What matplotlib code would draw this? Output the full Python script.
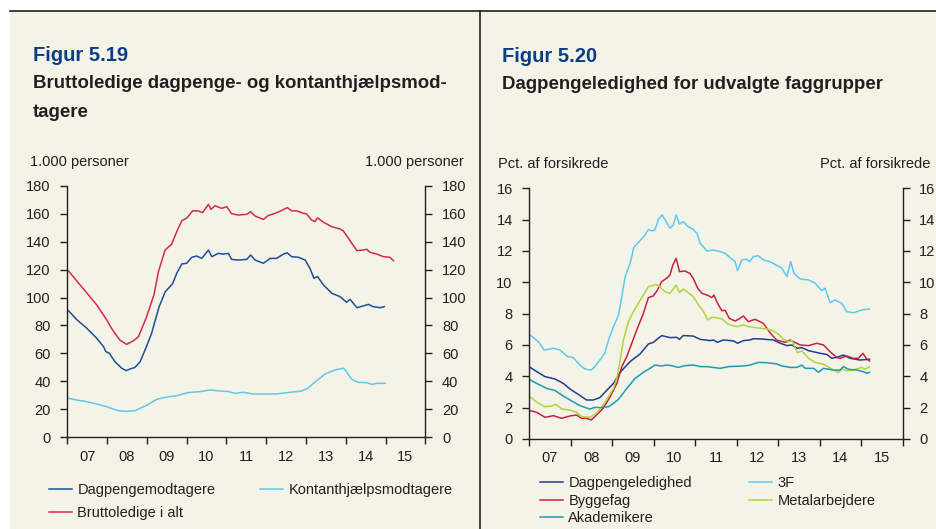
import matplotlib.pyplot as plt
from matplotlib.patches import Rectangle
from matplotlib.lines import Line2D

plt.rcParams['font.family'] = ['Liberation Sans', 'DejaVu Sans']

# Figur 5.19 - bruttoledige, 1.000 personer (tid i decimalår)
t_brutto = [2007.03, 2007.74, 2007.99, 2008.11, 2008.32, 2008.49, 2008.66, 2008.79, 2008.99,
            2009.18, 2009.29, 2009.46, 2009.62, 2009.75, 2009.88, 2010.00, 2010.15, 2010.29,
            2010.40, 2010.55, 2010.61, 2010.71, 2010.88, 2011.01, 2011.13, 2011.30, 2011.51,
            2011.61, 2011.72, 2011.93, 2012.05, 2012.22, 2012.37, 2012.53, 2012.64, 2012.77,
            2012.89, 2013.02, 2013.14, 2013.23, 2013.29, 2013.44, 2013.65, 2013.86, 2013.94,
            2014.07, 2014.28, 2014.44, 2014.53, 2014.61, 2014.78, 2014.95, 2015.11, 2015.20]
v_brutto = [119.0, 94.7, 84.0, 78.0, 69.6, 66.5, 69.0, 72.0, 86.0,
            102.0, 118.5, 134.0, 138.0, 147.0, 155.0, 156.7, 162.0, 162.0,
            160.7, 166.7, 163.0, 165.7, 163.8, 165.0, 160.0, 159.0, 159.5,
            161.4, 158.3, 155.9, 158.6, 160.2, 162.0, 164.3, 162.0, 162.0,
            160.7, 159.7, 155.5, 154.3, 157.0, 153.8, 150.7, 149.0, 147.6,
            142.3, 133.5, 134.0, 134.5, 132.3, 131.1, 129.2, 128.8, 126.4]

t_dagp = [2007.03, 2007.23, 2007.49, 2007.74, 2007.91, 2007.97, 2008.06, 2008.20, 2008.37,
          2008.48, 2008.58, 2008.70, 2008.83, 2008.99, 2009.12, 2009.20, 2009.31, 2009.46,
          2009.58, 2009.65, 2009.75, 2009.88, 2010.00, 2010.13, 2010.25, 2010.38, 2010.55,
          2010.63, 2010.80, 2010.92, 2011.05, 2011.13, 2011.30, 2011.51, 2011.61, 2011.72,
          2011.93, 2012.10, 2012.26, 2012.43, 2012.53, 2012.64, 2012.81, 2012.98, 2013.10,
          2013.20, 2013.29, 2013.44, 2013.65, 2013.86, 2014.02, 2014.11, 2014.28, 2014.44,
          2014.57, 2014.69, 2014.86, 2014.97]
v_dagp = [90.6, 84.4, 78.0, 70.8, 64.9, 61.3, 60.0, 54.0, 49.4,
          47.7, 48.9, 50.0, 54.0, 64.9, 74.4, 82.7, 93.5, 104.0,
          107.8, 110.0, 117.3, 124.0, 124.5, 128.8, 129.7, 128.0, 134.0,
          129.2, 131.6, 131.0, 131.6, 127.3, 126.8, 127.3, 130.4, 126.8,
          124.5, 128.0, 128.0, 131.0, 132.0, 129.2, 128.8, 126.8, 120.9,
          113.7, 115.0, 109.0, 103.0, 100.6, 96.6, 98.7, 92.7, 94.0,
          95.1, 93.5, 92.7, 93.5]

t_kont = [2007.03, 2007.23, 2007.49, 2007.74, 2007.99, 2008.28, 2008.49, 2008.70, 2008.87,
          2009.04, 2009.25, 2009.46, 2009.75, 2010.04, 2010.34, 2010.59, 2010.84, 2011.05,
          2011.22, 2011.43, 2011.68, 2012.26, 2012.60, 2012.89, 2013.04, 2013.19, 2013.48,
          2013.73, 2013.94, 2014.02, 2014.15, 2014.32, 2014.53, 2014.65, 2014.78, 2014.99]
v_kont = [27.9, 26.7, 25.5, 23.8, 21.9, 19.0, 18.6, 19.0, 21.2,
          23.6, 27.2, 28.6, 29.8, 32.0, 32.7, 33.9, 33.1, 32.7,
          31.5, 32.2, 31.0, 31.0, 32.2, 33.1, 35.0, 38.6, 45.3,
          48.2, 49.4, 47.0, 41.5, 39.3, 39.1, 37.9, 38.6, 38.6]

# Figur 5.20 - dagpengeledighed, pct. af forsikrede
t_3f = [2007.02, 2007.22, 2007.36, 2007.58, 2007.74, 2007.92, 2008.06, 2008.22, 2008.34,
        2008.49, 2008.58, 2008.70, 2008.82, 2008.91, 2009.03, 2009.15, 2009.23, 2009.31,
        2009.43, 2009.52, 2009.67, 2009.79, 2009.87, 2009.95, 2010.03, 2010.11, 2010.20,
        2010.30, 2010.39, 2010.47, 2010.54, 2010.62, 2010.71, 2010.83, 2010.95, 2011.04,
        2011.12, 2011.28, 2011.44, 2011.60, 2011.72, 2011.84, 2011.96, 2012.02, 2012.12,
        2012.24, 2012.31, 2012.40, 2012.52, 2012.64, 2012.80, 2012.92, 2013.09, 2013.21,
        2013.30, 2013.38, 2013.53, 2013.73, 2013.89, 2014.05, 2014.13, 2014.25, 2014.37,
        2014.53, 2014.65, 2014.81, 2015.01, 2015.20]
v_3f = [6.64, 6.20, 5.68, 5.79, 5.68, 5.26, 5.19, 4.72, 4.47,
        4.40, 4.62, 5.04, 5.47, 6.32, 7.17, 7.91, 9.09, 10.36,
        11.21, 12.23, 12.66, 13.02, 13.38, 13.28, 13.34, 14.02, 14.30,
        13.87, 13.45, 13.66, 14.30, 13.72, 13.87, 13.55, 13.38, 13.13,
        12.49, 12.00, 12.06, 11.96, 11.85, 11.57, 11.32, 10.74, 11.43,
        11.47, 11.32, 11.64, 11.70, 11.43, 11.32, 11.15, 10.89, 10.36,
        11.32, 10.57, 10.21, 10.15, 9.94, 9.47, 9.62, 8.70, 8.87,
        8.66, 8.13, 8.06, 8.23, 8.30]

t_ledig = [2007.02, 2007.18, 2007.38, 2007.62, 2007.82, 2007.98, 2008.18, 2008.38, 2008.54,
           2008.70, 2008.86, 2009.03, 2009.19, 2009.43, 2009.67, 2009.87, 2009.99, 2010.19,
           2010.39, 2010.55, 2010.62, 2010.71, 2010.95, 2011.12, 2011.36, 2011.44, 2011.53,
           2011.68, 2011.92, 2012.02, 2012.16, 2012.32, 2012.40, 2012.60, 2012.88, 2013.05,
           2013.21, 2013.33, 2013.45, 2013.57, 2013.73, 2014.01, 2014.17, 2014.29, 2014.41,
           2014.57, 2014.73, 2014.97, 2015.20]
v_ledig = [4.57, 4.30, 3.98, 3.83, 3.55, 3.19, 2.85, 2.49, 2.49,
           2.64, 3.09, 3.55, 4.26, 4.94, 5.43, 6.06, 6.17, 6.60,
           6.47, 6.49, 6.36, 6.60, 6.57, 6.36, 6.28, 6.32, 6.17,
           6.32, 6.26, 6.11, 6.28, 6.32, 6.40, 6.38, 6.32, 6.11,
           5.96, 6.00, 5.79, 5.83, 5.64, 5.47, 5.40, 5.15, 5.21,
           5.36, 5.15, 5.04, 5.09]

t_bygge = [2007.02, 2007.18, 2007.38, 2007.58, 2007.78, 2007.98, 2008.14, 2008.26, 2008.38,
           2008.49, 2008.62, 2008.78, 2008.95, 2009.11, 2009.23, 2009.35, 2009.47, 2009.59,
           2009.75, 2009.87, 2009.99, 2010.09, 2010.19, 2010.31, 2010.39, 2010.46, 2010.54,
           2010.62, 2010.75, 2010.87, 2010.95, 2011.06, 2011.16, 2011.32, 2011.40, 2011.45,
           2011.53, 2011.64, 2011.72, 2011.82, 2011.96, 2012.08, 2012.16, 2012.28, 2012.44,
           2012.56, 2012.64, 2012.80, 2012.96, 2013.17, 2013.29, 2013.41, 2013.53, 2013.73,
           2013.93, 2014.09, 2014.25, 2014.41, 2014.49, 2014.65, 2014.81, 2014.93, 2015.04,
           2015.14, 2015.20]
v_bygge = [1.81, 1.70, 1.38, 1.49, 1.32, 1.47, 1.53, 1.32, 1.32,
           1.21, 1.53, 1.96, 2.70, 3.55, 4.62, 5.26, 6.11, 6.96,
           8.02, 9.02, 9.13, 9.51, 10.04, 10.26, 10.47, 11.11, 11.53,
           10.68, 10.72, 10.57, 10.26, 9.62, 9.30, 9.15, 9.02, 9.19,
           8.70, 8.19, 8.21, 7.70, 7.53, 7.70, 7.85, 7.49, 7.64,
           7.49, 7.38, 6.79, 6.32, 6.17, 6.32, 6.15, 6.00, 5.96,
           6.11, 6.00, 5.57, 5.21, 5.15, 5.30, 5.15, 5.15, 5.47,
           5.09, 4.98]

t_metal = [2007.02, 2007.18, 2007.38, 2007.54, 2007.64, 2007.78, 2007.98, 2008.14, 2008.26,
           2008.46, 2008.62, 2008.78, 2008.91, 2009.03, 2009.12, 2009.19, 2009.27, 2009.39,
           2009.51, 2009.63, 2009.75, 2009.87, 2009.95, 2010.05, 2010.15, 2010.27, 2010.39,
           2010.54, 2010.62, 2010.71, 2010.83, 2010.95, 2011.08, 2011.20, 2011.30, 2011.40,
           2011.52, 2011.64, 2011.80, 2012.00, 2012.16, 2012.28, 2012.48, 2012.72, 2012.88,
           2013.00, 2013.13, 2013.25, 2013.33, 2013.46, 2013.57, 2013.73, 2013.89, 2014.09,
           2014.29, 2014.45, 2014.53, 2014.65, 2014.81, 2015.01, 2015.09, 2015.20]
v_metal = [2.70, 2.34, 2.06, 2.11, 2.21, 1.91, 1.85, 1.70, 1.43,
           1.38, 1.64, 2.17, 2.70, 3.23, 3.98, 5.04, 6.32, 7.49,
           8.13, 8.66, 9.19, 9.72, 9.77, 9.87, 9.72, 9.40, 9.30,
           9.83, 9.34, 9.57, 9.34, 9.09, 8.55, 8.13, 7.60, 7.77,
           7.74, 7.66, 7.32, 7.17, 7.28, 7.17, 7.10, 7.02, 6.91,
           6.70, 6.36, 6.21, 6.28, 5.51, 5.62, 5.15, 4.89, 4.77,
           4.47, 4.23, 4.47, 4.36, 4.40, 4.57, 4.45, 4.62]

t_akad = [2007.02, 2007.22, 2007.42, 2007.62, 2007.82, 2008.02, 2008.22, 2008.46, 2008.58,
          2008.70, 2008.91, 2009.03, 2009.15, 2009.35, 2009.55, 2009.75, 2009.91, 2010.03,
          2010.19, 2010.31, 2010.43, 2010.59, 2010.75, 2010.95, 2011.12, 2011.28, 2011.60,
          2011.80, 2012.16, 2012.32, 2012.52, 2012.72, 2012.96, 2013.09, 2013.29, 2013.45,
          2013.57, 2013.65, 2013.85, 2013.97, 2014.09, 2014.33, 2014.49, 2014.57, 2014.69,
          2014.89, 2015.05, 2015.14, 2015.20]
v_akad = [3.77, 3.49, 3.23, 3.09, 2.74, 2.43, 2.13, 1.91, 2.02,
          2.00, 2.06, 2.28, 2.53, 3.23, 3.87, 4.26, 4.51, 4.72,
          4.66, 4.72, 4.68, 4.57, 4.68, 4.72, 4.62, 4.62, 4.51,
          4.62, 4.66, 4.72, 4.89, 4.87, 4.79, 4.66, 4.57, 4.57,
          4.72, 4.51, 4.51, 4.26, 4.51, 4.40, 4.40, 4.62, 4.45,
          4.40, 4.30, 4.19, 4.26]

years = list(range(2007, 2017))
year_labels = ['07', '08', '09', '10', '11', '12', '13', '14', '15']

cream = '#f4f3e8'
dark = '#231f20'
title_blue = '#0b3c88'
fs = 10.5

W, H = 936, 529
fig = plt.figure(figsize=(W / 100, H / 100), dpi=100)
fig.patch.set_facecolor('white')

# cremefarvet baggrund og rammelinjer
fig.patches.append(Rectangle((10 / W, 0), 1 - 10 / W, 1 - 11 / H, transform=fig.transFigure,
                             facecolor=cream, edgecolor='none', zorder=-10))
fig.lines.append(Line2D([10 / W, 1], [1 - 11 / H, 1 - 11 / H], transform=fig.transFigure,
                        color=dark, lw=1.2))
fig.lines.append(Line2D([480 / W, 480 / W], [0, 1 - 11 / H], transform=fig.transFigure,
                        color=dark, lw=1.2))


def style_axis(ax, ymax, ystep):
    ax.set_facecolor('none')
    ax.set_xlim(2007, 2016)
    ax.set_ylim(0, ymax)
    ax.set_yticks(range(0, ymax + 1, ystep))
    ax.set_xticks(years)
    ax.set_xticklabels([])
    ax.set_xticks([y + 0.5 for y in years[:-1]], minor=True)
    ax.set_xticklabels(year_labels, minor=True)
    ax.tick_params(axis='x', which='major', direction='out', length=5, width=1, color=dark)
    ax.tick_params(axis='x', which='minor', length=0, pad=9, labelsize=fs, labelcolor=dark)
    ax.tick_params(axis='y', direction='out', length=5, width=1, color=dark,
                   left=True, right=True, labelleft=True, labelright=True,
                   labelsize=fs, labelcolor=dark, pad=7)
    ax.spines['top'].set_visible(False)
    for s in ['left', 'right', 'bottom']:
        ax.spines[s].set_color(dark)
        ax.spines[s].set_linewidth(1)


# Figur 5.19
ax1 = fig.add_axes([67.3 / W, 1 - 437.3 / H, 358 / W, 251.6 / H])
style_axis(ax1, 180, 20)
l_dagp, = ax1.plot(t_dagp, v_dagp, color='#1f4e9a', lw=1.1)
l_kont, = ax1.plot(t_kont, v_kont, color='#62c6ec', lw=1.1)
l_brutto, = ax1.plot(t_brutto, v_brutto, color='#d62a4d', lw=1.1)

fig.text(33 / W, 1 - 61 / H, 'Figur 5.19', fontsize=14.5, fontweight='bold', color=title_blue)
fig.text(33 / W, 1 - 88 / H, 'Bruttoledige dagpenge- og kontanthjælpsmod-', fontsize=13.4,
         fontweight='bold', color=dark)
fig.text(33 / W, 1 - 117 / H, 'tagere', fontsize=13.4, fontweight='bold', color=dark)
fig.text(30 / W, 1 - 166 / H, '1.000 personer', fontsize=fs, color=dark)
fig.text(464 / W, 1 - 166 / H, '1.000 personer', fontsize=fs, color=dark, ha='right')

leg_kw = dict(frameon=False, fontsize=fs, handlelength=1.55, handletextpad=0.4,
              borderpad=0, borderaxespad=0, loc='upper left')
leg_a = fig.legend([l_dagp, l_brutto], ['Dagpengemodtagere', 'Bruttoledige i alt'],
                   bbox_to_anchor=(49 / W, 1 - 483 / H), labelspacing=0.65, **leg_kw)
leg_b = fig.legend([l_kont], ['Kontanthjælpsmodtagere'],
                   bbox_to_anchor=(260 / W, 1 - 483 / H), labelspacing=0.65, **leg_kw)
for leg in (leg_a, leg_b):
    for txt in leg.get_texts():
        txt.set_color(dark)

# Figur 5.20
ax2 = fig.add_axes([529.3 / W, 1 - 439 / H, 373.4 / W, 250.7 / H])
style_axis(ax2, 16, 2)
l_ledig, = ax2.plot(t_ledig, v_ledig, color='#1d3f8e', lw=1.1)
l_3f, = ax2.plot(t_3f, v_3f, color='#5ccaf0', lw=1.1)
l_bygge, = ax2.plot(t_bygge, v_bygge, color='#c8213f', lw=1.1)
l_metal, = ax2.plot(t_metal, v_metal, color='#b6d33a', lw=1.1)
l_akad, = ax2.plot(t_akad, v_akad, color='#1d9ab3', lw=1.1)

fig.text(502 / W, 1 - 62 / H, 'Figur 5.20', fontsize=14.5, fontweight='bold', color=title_blue)
fig.text(502 / W, 1 - 89 / H, 'Dagpengeledighed for udvalgte faggrupper', fontsize=13.4,
         fontweight='bold', color=dark)
fig.text(498 / W, 1 - 168 / H, 'Pct. af forsikrede', fontsize=fs, color=dark)
fig.text(930 / W, 1 - 168 / H, 'Pct. af forsikrede', fontsize=fs, color=dark, ha='right')

leg_c = fig.legend([l_ledig, l_bygge, l_akad], ['Dagpengeledighed', 'Byggefag', 'Akademikere'],
                   bbox_to_anchor=(540 / W, 1 - 476 / H), labelspacing=0.25, **leg_kw)
leg_d = fig.legend([l_3f, l_metal], ['3F', 'Metalarbejdere'],
                   bbox_to_anchor=(749 / W, 1 - 476 / H), labelspacing=0.25, **leg_kw)
for leg in (leg_c, leg_d):
    for txt in leg.get_texts():
        txt.set_color(dark)

fig.savefig('out.png', dpi=100, facecolor=fig.get_facecolor())
